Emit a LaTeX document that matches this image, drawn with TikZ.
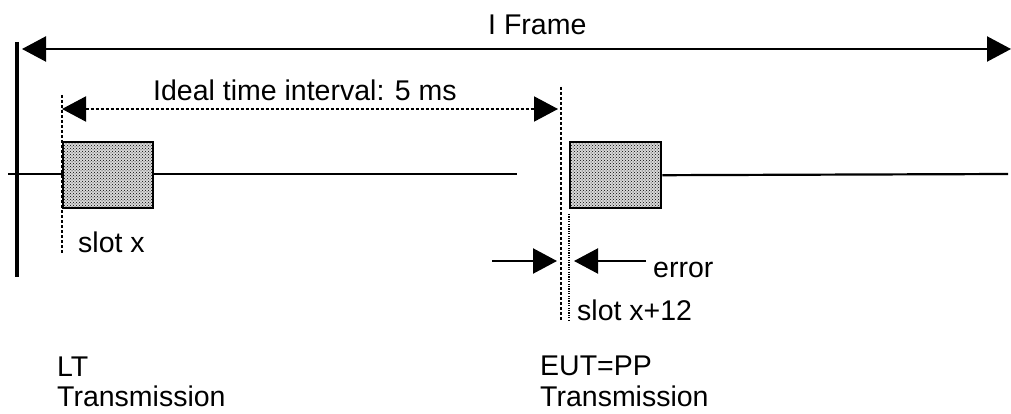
\documentclass[tikz,border=0pt]{standalone}
\usepackage{fontspec}
\setmainfont{Liberation Sans}
\usetikzlibrary{arrows.meta,patterns}
\begin{document}
\begin{tikzpicture}[x=1pt,y=-1pt,
  lbl/.style={anchor=base west,inner sep=0pt,font=\fontsize{28.5}{34}\selectfont},
  bigtip/.style={-{Triangle[length=24pt,width=25pt]}},
  bothtip/.style={{Triangle[length=24pt,width=25pt]}-{Triangle[length=24pt,width=25pt]}},
  slotbox/.style={draw,line width=2.4pt,preaction={fill=gray!30},pattern=crosshatch dots},
  guide/.style={line width=2.8pt,dash pattern=on 3pt off 2pt},
  fine/.style={line width=2.2pt,dash pattern=on 1.2pt off 1.2pt}]
\useasboundingbox (0,0) rectangle (1011,414);
% coordinates
\coordinate (fL) at (22,49);
\coordinate (fR) at (1011,49);
\coordinate (vT) at (17,42);
\coordinate (vB) at (17,277);
\coordinate (iL) at (62,109);
\coordinate (iR) at (558,109);
\coordinate (g1T) at (62,95);
\coordinate (g1B) at (62,254);
\coordinate (g2T) at (561,87);
\coordinate (g2B) at (561,321);
\coordinate (g3T) at (569,214);
\coordinate (g3B) at (569,321);
\coordinate (tl0) at (8,174);
\coordinate (tl1) at (517,174);
\coordinate (tl2) at (1008,174);
\coordinate (eA) at (492,261);
\coordinate (eAt) at (557,261);
\coordinate (eB) at (646,261);
\coordinate (eBt) at (574,261);
% frame
\draw[line width=3.2pt] (vT) -- (vB);
\draw[line width=2.2pt,bothtip] (fL) -- (fR);
\node[lbl] (frame) at (488,35) {I Frame};
% timeline and slots
\draw[line width=2.2pt] (tl0) -- (tl1);
\draw[guide] (g1T) -- (g1B);
\node[slotbox,minimum width=90pt,minimum height=66pt,inner sep=0pt,anchor=north west] (s1) at (62,141) {};
\node[slotbox,minimum width=91pt,minimum height=66pt,inner sep=0pt,anchor=north west] (s2) at (569,141) {};
\draw[line width=2.2pt] (s2.east) -- (tl2);
% guides
\draw[guide] (g2T) -- (g2B);
\draw[fine] (g3T) -- (g3B);
% ideal interval
\draw[line width=2pt,dash pattern=on 3pt off 2pt,bothtip] (iL) -- (iR);
\node[lbl] (ideal) at (153,101) {Ideal time interval: 5 ms};
% error
\draw[line width=2.2pt,bigtip] (eA) -- (eAt);
\draw[line width=2.2pt,bigtip] (eB) -- (eBt);
\node[lbl] (err) at (653,277) {error};
% labels
\node[lbl] (slx) at (78,252) {slot x};
\node[lbl] (slx12) at (577,320) {slot x+12};
\node[lbl] (lt) at (57,376) {LT};
\node[lbl] (lttx) at (57,406) {Transmission};
\node[lbl] (eut) at (540,375) {EUT=PP};
\node[lbl] (euttx) at (540,406) {Transmission};
\end{tikzpicture}
\end{document}
